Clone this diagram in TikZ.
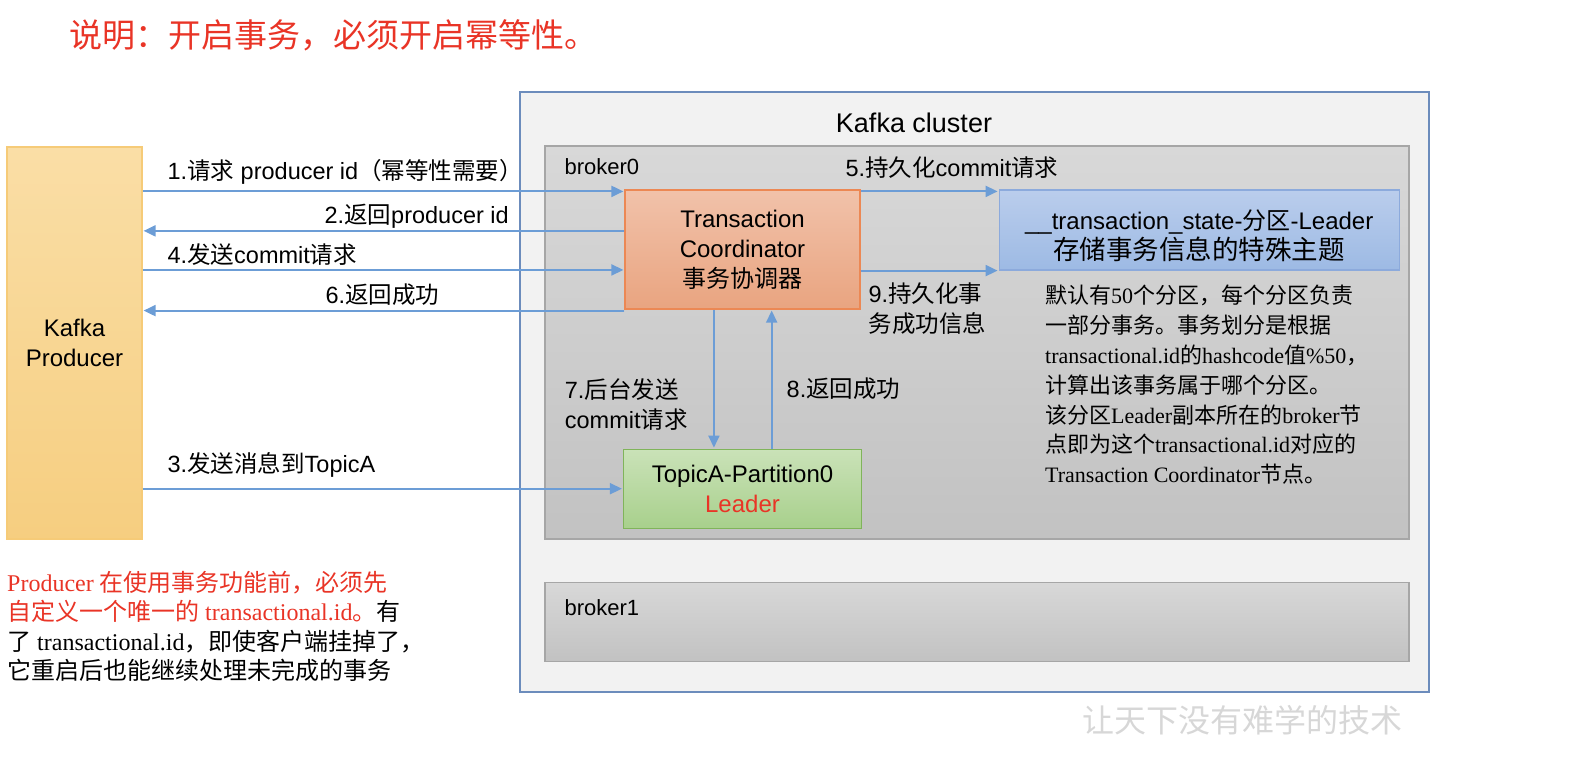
\documentclass[tikz,border=0pt]{standalone}
\usepackage{fontspec}
\setmainfont{Liberation Sans}
\newfontfamily\cjk{Noto Sans CJK SC}
\newfontfamily\tms{Liberation Serif}
\newcommand\zh[1]{{\cjk #1}}
\usetikzlibrary{positioning,arrows.meta,calc}
\definecolor{flowblue}{RGB}{108,157,214}
\definecolor{notered}{RGB}{233,52,38}
\definecolor{clusterfill}{RGB}{242,242,242}
\definecolor{clusterline}{RGB}{108,140,188}
\definecolor{brokertop}{RGB}{216,216,216}
\definecolor{brokerbot}{RGB}{194,194,194}
\definecolor{brokerline}{RGB}{166,166,166}
\definecolor{prodtop}{RGB}{250,222,166}
\definecolor{prodbot}{RGB}{246,206,128}
\definecolor{prodline}{RGB}{246,203,120}
\definecolor{tctop}{RGB}{241,194,170}
\definecolor{tcbot}{RGB}{233,164,128}
\definecolor{tcline}{RGB}{236,136,84}
\definecolor{tstop}{RGB}{186,205,236}
\definecolor{tsbot}{RGB}{157,186,228}
\definecolor{tsline}{RGB}{140,170,220}
\definecolor{tptop}{RGB}{202,226,184}
\definecolor{tpbot}{RGB}{168,208,140}
\definecolor{tpline}{RGB}{128,180,90}
\definecolor{wmgray}{RGB}{215,215,215}

\begin{document}
\begin{tikzpicture}[x=1pt, y=-1pt, >={Triangle[length=12pt, width=11pt]}, shorten >=1pt,
  box/.style={draw, line width=1.2pt, inner sep=0pt, align=center, font=\fontsize{24}{30}\selectfont},
  flow/.style={->, draw=flowblue, fill=flowblue, line width=2pt},
  lbl/.style={inner sep=0pt, align=left, font=\fontsize{23.5}{30}\selectfont},
  note/.style={inner sep=0pt, align=left, font=\tms\fontsize{24}{29.5}\selectfont}]
	\useasboundingbox (0,0) rectangle (1580,760);
	\node[anchor=west, inner sep=0pt, text=notered, font=\cjk\fontsize{33}{36}\selectfont] (title) at (69,35) {说明：开启事务，必须开启幂等性。};
	% cluster and brokers
	\node[box, draw=clusterline, fill=clusterfill, line width=2pt, minimum width=909pt, minimum height=600pt] (clu) at (974.5,392) {};
	\node[inner sep=0pt, font=\fontsize{27}{30}\selectfont] (clulbl) at (914,123) {Kafka cluster};
	\node[box, draw=brokerline, top color=brokertop, bottom color=brokerbot, minimum width=864pt, minimum height=393pt] (b0) at (977,342.5) {};
	\node[box, draw=brokerline, top color=brokertop, bottom color=brokerbot, minimum width=864pt, minimum height=79pt, below=42pt of b0] (b1) {};
	\node[lbl, anchor=west, font=\fontsize{22}{26}\selectfont] (b0lbl) at ([xshift=20pt, yshift=-21pt]b0.north west) {broker0};
	\node[lbl, anchor=west, font=\fontsize{22}{26}\selectfont] (b1lbl) at ([xshift=20pt, yshift=-26pt]b1.north west) {broker1};
	% main boxes
	\node[box, draw=prodline, top color=prodtop, bottom color=prodbot, minimum width=135pt, minimum height=392pt, font=\fontsize{24}{30}\selectfont] (prod) at (74.5,343) {Kafka\\Producer};
	\node[box, draw=tcline, top color=tctop, bottom color=tcbot, minimum width=235pt, minimum height=119pt] (tc) at (742.5,249.5) {Transaction\\Coordinator\\\zh{事务协调器}};
	\node[box, draw=tsline, top color=tstop, bottom color=tsbot, minimum width=400pt, minimum height=80pt, right=138pt of tc.north east, anchor=north west] (ts) {\rule{0pt}{32pt}\_\_transaction\_state-\zh{分区}-Leader\\{\cjk\fontsize{26.5}{30}\selectfont 存储事务信息的特殊主题}};
	\node[box, draw=tpline, top color=tptop, bottom color=tpbot, minimum width=238pt, minimum height=79pt, below=139pt of tc] (tp) {TopicA-Partition0\\\textcolor{notered}{Leader}};
	% arrow ends on the coordinator
	\coordinate (tcA) at ([yshift=-2pt]tc.north west);
	\coordinate (tcB) at ($(tc.north west)!0.345!(tc.south west)$);
	\coordinate (tcC) at ($(tc.north west)!0.67!(tc.south west)$);
	\coordinate (tcD) at ([yshift=-1pt]tc.south west);
	\coordinate (tcE) at ([yshift=-2pt]tc.north east);
	\coordinate (tcF) at ($(tc.south west)!0.379!(tc.south east)$);
	\coordinate (tpG) at ($(tp.north west)!0.622!(tp.north east)$);
	\draw[flow] (prod.east |- tcA) -- node[lbl, at start, anchor=west, xshift=24pt, yshift=20pt] {1.\zh{请求} producer id\zh{（幂等性需要）}} (tcA);
	\draw[flow] (tcB) -- node[lbl, at end, anchor=west, xshift=181pt, yshift=15pt] {2.\zh{返回}producer id} (prod.east |- tcB);
	\draw[flow] (prod.east |- tcC) -- node[lbl, at start, anchor=west, xshift=24pt, yshift=15pt] {4.\zh{发送}commit\zh{请求}} (tcC);
	\draw[flow] (tcD) -- node[lbl, at end, anchor=west, xshift=182pt, yshift=16pt] {6.\zh{返回成功}} (prod.east |- tcD);
	\draw[flow] (prod.east |- tp.west) -- node[lbl, at start, anchor=west, xshift=24pt, yshift=24pt] {3.\zh{发送消息到}TopicA} (tp.west);
	\draw[flow] (tcE) -- node[lbl, at start, anchor=west, xshift=-16pt, yshift=24pt] {5.\zh{持久化}commit\zh{请求}} (ts.west |- tcE);
	\draw[flow] (tc.east |- ts.south west) -- node[lbl, at start, anchor=west, xshift=7pt, yshift=-38pt] {9.\zh{持久化事}\\\zh{务成功信息}} (ts.south west);
	\draw[flow] (tcF) -- node[lbl, at start, anchor=west, xshift=-150pt, yshift=-95pt] {7.\zh{后台发送}\\commit\zh{请求}} (tcF |- tp.north);
	\draw[flow] (tpG) -- node[lbl, at start, anchor=west, xshift=14pt, yshift=60pt] {8.\zh{返回成功}} (tpG |- tc.south);
	% side texts
	\node[note, anchor=north west, font=\tms\fontsize{22}{29.8}\selectfont] (info) at (1045,285) {\zh{默认有}50\zh{个分区，每个分区负责}\\
		\zh{一部分事务。事务划分是根据}\\
		transactional.id\zh{的}hashcode\zh{值}\%50\zh{，}\\
		\zh{计算出该事务属于哪个分区。}\\
		\zh{该分区}Leader\zh{副本所在的}broker\zh{节}\\
		\zh{点即为这个}transactional.id\zh{对应的}\\
		Transaction Coordinator\zh{节点。}};
	\node[note, anchor=north west] (tip) at (7,571) {\textcolor{notered}{Producer \zh{在使用事务功能前，必须先}}\\
		\textcolor{notered}{\zh{自定义一个唯一的} transactional.id\zh{。}}\zh{有}\\
		\zh{了} transactional.id\zh{，即使客户端挂掉了，}\\
		\zh{它重启后也能继续处理未完成的事务}};
	\node[inner sep=0pt, text=wmgray, font=\cjk\fontsize{32}{36}\selectfont] (wm) at (1242,720) {让天下没有难学的技术};
\end{tikzpicture}
\end{document}
